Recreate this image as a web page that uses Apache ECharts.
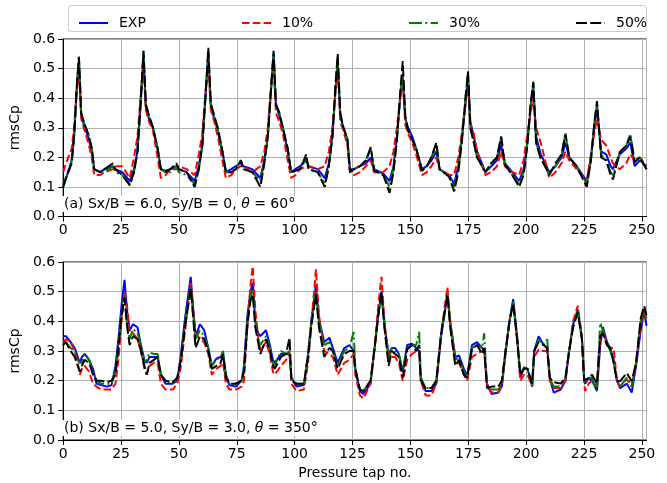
<!DOCTYPE html>
<html>
<head>
<meta charset="utf-8">
<script src="https://cdn.jsdelivr.net/npm/echarts@6/dist/echarts.min.js"></script>
<style>
  html, body { margin: 0; padding: 0; background: #fff; }
  #main { width: 667px; height: 483px; }
</style>
</head>
<body>
<div id="main"></div>
<script>
// panel (a): Sx/B = 6.0, Sy/B = 0, theta = 60
const tapsA = [
  0, 1.7, 3.7, 4.8, 5.8, 6.8, 7.8, 9.3, 10.8, 12.4, 13.4, 15.9, 17.9, 21.5, 22.5, 25.5, 28.8,
  30.6, 32.1, 33.6, 34.7, 35.7, 37.1, 38.8, 40.8, 42.2, 44.2, 46.3, 48.9, 49.9, 53.3, 56.8,
  58.6, 60.1, 61.6, 62.7, 63.8, 65.3, 66.8, 68.8, 70.3, 72.6, 74.6, 76.8, 77.8, 81.7, 85.2,
  86.9, 88.4, 89.8, 90.9, 91.9, 93.4, 94.9, 97, 98.5, 100.4, 102.4, 105, 106, 110, 113,
  114.8, 116.3, 117.6, 118.6, 119.7, 121.1, 122.8, 123.9, 125.7, 128.2, 130.8, 132.9, 134.3, 138.3, 141,
  142.7, 144.2, 145.6, 146.7, 147.8, 149, 150.8, 152.5, 155, 157.1, 159.1, 161.2, 162.6, 166.7, 168.9,
  170.7, 172.2, 173.8, 174.9, 175.9, 177.1, 178.8, 182.4, 184.9, 187.4, 189.2, 190.8, 194, 197,
  198.9, 200.4, 201.9, 203.1, 204.3, 206.3, 208.2, 210, 212.7, 215.3, 217, 218.6, 221.8, 226.2,
  228, 229.4, 230.6, 232.4, 234.6, 236.5, 237.5, 240.4, 243.3, 245, 246.9, 249.1, 252
];
const expA = [
  0.11, 0.14, 0.19, 0.28, 0.42, 0.53, 0.34, 0.30, 0.27, 0.22, 0.16, 0.15, 0.16, 0.17, 0.16, 0.15, 0.12,
  0.16, 0.22, 0.40, 0.55, 0.37, 0.33, 0.30, 0.23, 0.16, 0.155, 0.16, 0.17, 0.16, 0.15, 0.12,
  0.17, 0.24, 0.42, 0.55, 0.37, 0.33, 0.29, 0.22, 0.15, 0.16, 0.17, 0.18, 0.17, 0.16, 0.13,
  0.19, 0.27, 0.43, 0.55, 0.38, 0.34, 0.30, 0.22, 0.15, 0.16, 0.17, 0.19, 0.17, 0.16, 0.13,
  0.18, 0.27, 0.42, 0.52, 0.34, 0.30, 0.26, 0.16, 0.16, 0.17, 0.18, 0.20, 0.16, 0.145, 0.12,
  0.17, 0.27, 0.40, 0.47, 0.33, 0.30, 0.27, 0.23, 0.16, 0.17, 0.19, 0.22, 0.16, 0.14, 0.11,
  0.17, 0.26, 0.38, 0.47, 0.32, 0.28, 0.22, 0.15, 0.17, 0.19, 0.24, 0.18, 0.15, 0.12,
  0.16, 0.24, 0.36, 0.44, 0.27, 0.21, 0.18, 0.15, 0.17, 0.20, 0.25, 0.20, 0.17, 0.12,
  0.20, 0.30, 0.37, 0.22, 0.21, 0.17, 0.16, 0.21, 0.23, 0.25, 0.17, 0.19, 0.17
];
const p10A = [
  0.15, 0.19, 0.23, 0.31, 0.42, 0.50, 0.33, 0.29, 0.25, 0.20, 0.14, 0.14, 0.15, 0.16, 0.17, 0.17, 0.13,
  0.20, 0.27, 0.42, 0.52, 0.36, 0.32, 0.29, 0.20, 0.13, 0.14, 0.16, 0.16, 0.17, 0.16, 0.14,
  0.21, 0.28, 0.43, 0.52, 0.36, 0.32, 0.27, 0.19, 0.13, 0.14, 0.16, 0.17, 0.17, 0.15, 0.17,
  0.22, 0.30, 0.44, 0.50, 0.35, 0.32, 0.28, 0.19, 0.13, 0.14, 0.16, 0.17, 0.17, 0.16, 0.17,
  0.22, 0.30, 0.42, 0.50, 0.32, 0.29, 0.24, 0.15, 0.14, 0.15, 0.17, 0.19, 0.15, 0.15, 0.17,
  0.22, 0.30, 0.40, 0.46, 0.31, 0.28, 0.25, 0.21, 0.14, 0.15, 0.17, 0.20, 0.16, 0.14, 0.14,
  0.20, 0.28, 0.38, 0.45, 0.31, 0.29, 0.22, 0.14, 0.15, 0.17, 0.22, 0.17, 0.15, 0.14,
  0.19, 0.27, 0.35, 0.40, 0.30, 0.25, 0.19, 0.13, 0.15, 0.18, 0.22, 0.19, 0.16, 0.12,
  0.21, 0.28, 0.33, 0.26, 0.24, 0.20, 0.18, 0.16, 0.18, 0.21, 0.19, 0.20, 0.17
];
const p30A = [
  0.10, 0.14, 0.19, 0.28, 0.43, 0.54, 0.35, 0.31, 0.28, 0.23, 0.16, 0.15, 0.15, 0.17, 0.15, 0.14, 0.11,
  0.15, 0.22, 0.40, 0.56, 0.38, 0.34, 0.30, 0.23, 0.16, 0.15, 0.15, 0.17, 0.15, 0.14, 0.11,
  0.16, 0.24, 0.42, 0.56, 0.38, 0.34, 0.29, 0.22, 0.15, 0.15, 0.16, 0.19, 0.16, 0.15, 0.12,
  0.18, 0.27, 0.43, 0.55, 0.38, 0.35, 0.30, 0.23, 0.15, 0.155, 0.16, 0.20, 0.16, 0.15, 0.11,
  0.17, 0.27, 0.43, 0.53, 0.34, 0.30, 0.26, 0.15, 0.16, 0.17, 0.19, 0.23, 0.16, 0.14, 0.10,
  0.16, 0.27, 0.41, 0.48, 0.33, 0.29, 0.26, 0.23, 0.155, 0.17, 0.20, 0.245, 0.16, 0.135, 0.10,
  0.16, 0.26, 0.40, 0.49, 0.30, 0.26, 0.20, 0.15, 0.18, 0.20, 0.27, 0.18, 0.14, 0.11,
  0.15, 0.24, 0.37, 0.45, 0.25, 0.20, 0.17, 0.145, 0.17, 0.21, 0.28, 0.20, 0.17, 0.11,
  0.19, 0.31, 0.385, 0.21, 0.19, 0.15, 0.14, 0.21, 0.24, 0.28, 0.19, 0.20, 0.16
];
const p50A = [
  0.10, 0.14, 0.18, 0.28, 0.43, 0.54, 0.35, 0.31, 0.28, 0.23, 0.16, 0.15, 0.16, 0.18, 0.16, 0.14, 0.105,
  0.15, 0.22, 0.40, 0.56, 0.38, 0.34, 0.30, 0.23, 0.16, 0.15, 0.16, 0.18, 0.16, 0.15, 0.10,
  0.16, 0.24, 0.42, 0.57, 0.38, 0.34, 0.30, 0.22, 0.15, 0.15, 0.16, 0.19, 0.16, 0.15, 0.10,
  0.18, 0.27, 0.43, 0.56, 0.38, 0.35, 0.30, 0.23, 0.15, 0.155, 0.16, 0.21, 0.16, 0.15, 0.10,
  0.17, 0.27, 0.44, 0.55, 0.35, 0.30, 0.26, 0.15, 0.16, 0.17, 0.19, 0.235, 0.155, 0.14, 0.08,
  0.15, 0.26, 0.42, 0.525, 0.34, 0.29, 0.26, 0.23, 0.155, 0.17, 0.20, 0.25, 0.16, 0.135, 0.085,
  0.15, 0.25, 0.40, 0.49, 0.30, 0.26, 0.20, 0.15, 0.18, 0.20, 0.27, 0.175, 0.14, 0.10,
  0.14, 0.23, 0.38, 0.455, 0.25, 0.195, 0.17, 0.14, 0.18, 0.21, 0.28, 0.20, 0.17, 0.10,
  0.19, 0.31, 0.39, 0.20, 0.19, 0.14, 0.125, 0.217, 0.24, 0.27, 0.183, 0.20, 0.16
];

// panel (b): Sx/B = 5.0, Sy/B = 3.0, theta = 350
const tapsB = [
  0, 1.2, 3.2, 5, 6.3, 7.2, 8.1, 9.3, 11.2, 12.9, 14.4, 16.4, 18.9, 20.9, 22.6, 24, 25.3, 26.5,
  27.5, 28.7, 30.2, 32.1, 33.6, 35.1, 36.1, 37.3, 39.2, 40.8, 42.2, 44.2, 47.3, 49.3, 50.9, 52.8, 55.1,
  56.2, 57.2, 59.1, 60.9, 62.7, 64.2, 66.2, 68, 69.1, 70.3, 71.8, 74.6, 77.1, 78.1, 79.6, 80.9, 81.9,
  83, 84.2, 85.2, 87.6, 89.3, 90.6, 91.4, 94.1, 96.3, 97.8, 98.6, 100.8, 104, 105.8, 107.3, 109.2,
  110.5, 112.8, 115, 116.5, 118.6, 121.4, 123.7, 125.5, 126.2, 128.2, 129.7, 132.8, 134.7, 136.1, 137.5,
  138.9, 140.6, 142, 143.4, 145, 146.7, 148.6, 150.7, 152.5, 153.8, 154.5, 156.6, 159.1, 161.2, 163.3, 166,
  167.2, 169.4, 171, 173.1, 174.5, 176.6, 178.8, 181, 181.9, 183.1, 185.1, 188, 189.5, 191.1, 192.8, 194.4,
  196.1, 197.5, 199.1, 200.6, 202.6, 203.5, 205.4, 207.6, 209.1, 210.2, 211.9, 214.9, 217, 218.4, 220.3, 222.3,
  224.1, 225.1, 225.5, 227, 228.5, 230.6, 232, 233.2, 234.9, 236.3, 237.8, 239.2, 240.6, 243.5, 245.6, 247.5, 249.5, 251, 252
];
const expB = [
  0.35, 0.35, 0.33, 0.31, 0.28, 0.26, 0.28, 0.29, 0.27, 0.24, 0.19, 0.185, 0.18, 0.185, 0.25, 0.35, 0.46, 0.54,
  0.44, 0.37, 0.39, 0.38, 0.32, 0.27, 0.26, 0.28, 0.28, 0.28, 0.22, 0.19, 0.19, 0.20, 0.29, 0.42, 0.55,
  0.44, 0.35, 0.39, 0.37, 0.31, 0.25, 0.275, 0.28, 0.285, 0.22, 0.185, 0.18, 0.20, 0.25, 0.42, 0.50, 0.53,
  0.40, 0.36, 0.35, 0.37, 0.32, 0.27, 0.26, 0.29, 0.29, 0.29, 0.21, 0.18, 0.185, 0.29, 0.41, 0.52,
  0.41, 0.33, 0.345, 0.31, 0.26, 0.31, 0.32, 0.30, 0.24, 0.165, 0.155, 0.19, 0.32, 0.42, 0.50,
  0.38, 0.29, 0.31, 0.31, 0.29, 0.23, 0.32, 0.325, 0.31, 0.30, 0.21, 0.165, 0.165, 0.19, 0.35, 0.49,
  0.40, 0.28, 0.285, 0.24, 0.215, 0.32, 0.33, 0.31, 0.30, 0.19, 0.155, 0.16, 0.18, 0.29, 0.40, 0.475,
  0.35, 0.21, 0.245, 0.24, 0.18, 0.30, 0.35, 0.32, 0.31, 0.21, 0.16, 0.17, 0.20, 0.29, 0.39, 0.44,
  0.345, 0.20, 0.19, 0.21, 0.20, 0.165, 0.32, 0.38, 0.33, 0.31, 0.27, 0.20, 0.175, 0.19, 0.16, 0.25, 0.37, 0.435, 0.385
];
const p10B = [
  0.33, 0.34, 0.33, 0.30, 0.26, 0.22, 0.24, 0.25, 0.23, 0.19, 0.18, 0.17, 0.17, 0.17, 0.19, 0.28, 0.41, 0.50,
  0.46, 0.36, 0.36, 0.34, 0.30, 0.24, 0.22, 0.25, 0.26, 0.26, 0.19, 0.17, 0.17, 0.19, 0.25, 0.38, 0.53,
  0.44, 0.36, 0.34, 0.33, 0.29, 0.22, 0.24, 0.25, 0.26, 0.19, 0.17, 0.17, 0.18, 0.20, 0.38, 0.52, 0.585,
  0.44, 0.35, 0.30, 0.33, 0.29, 0.23, 0.22, 0.25, 0.27, 0.29, 0.19, 0.165, 0.17, 0.26, 0.40, 0.575,
  0.42, 0.30, 0.29, 0.28, 0.22, 0.26, 0.27, 0.29, 0.22, 0.15, 0.14, 0.19, 0.33, 0.45, 0.55,
  0.39, 0.28, 0.28, 0.28, 0.26, 0.20, 0.27, 0.29, 0.30, 0.30, 0.20, 0.15, 0.15, 0.19, 0.36, 0.515,
  0.40, 0.27, 0.26, 0.22, 0.20, 0.28, 0.29, 0.30, 0.30, 0.18, 0.16, 0.16, 0.18, 0.30, 0.40, 0.465,
  0.34, 0.20, 0.22, 0.22, 0.18, 0.28, 0.305, 0.30, 0.30, 0.20, 0.175, 0.175, 0.20, 0.29, 0.40, 0.452,
  0.35, 0.19, 0.165, 0.19, 0.20, 0.18, 0.34, 0.37, 0.32, 0.31, 0.31, 0.20, 0.18, 0.205, 0.18, 0.26, 0.39, 0.43, 0.40
];
const p30B = [
  0.33, 0.33, 0.31, 0.30, 0.27, 0.26, 0.26, 0.29, 0.27, 0.23, 0.20, 0.19, 0.19, 0.19, 0.23, 0.33, 0.43, 0.49,
  0.40, 0.34, 0.375, 0.36, 0.32, 0.26, 0.27, 0.295, 0.29, 0.29, 0.22, 0.20, 0.19, 0.21, 0.28, 0.41, 0.52,
  0.42, 0.34, 0.37, 0.35, 0.31, 0.25, 0.27, 0.28, 0.30, 0.22, 0.19, 0.19, 0.20, 0.24, 0.40, 0.48, 0.51,
  0.40, 0.34, 0.32, 0.35, 0.31, 0.26, 0.25, 0.30, 0.29, 0.30, 0.21, 0.19, 0.19, 0.29, 0.40, 0.50,
  0.40, 0.32, 0.33, 0.30, 0.25, 0.30, 0.31, 0.365, 0.24, 0.17, 0.165, 0.20, 0.32, 0.42, 0.49,
  0.38, 0.27, 0.31, 0.30, 0.29, 0.23, 0.31, 0.32, 0.32, 0.365, 0.21, 0.175, 0.175, 0.20, 0.36, 0.49,
  0.39, 0.27, 0.28, 0.23, 0.21, 0.31, 0.32, 0.31, 0.36, 0.18, 0.17, 0.17, 0.19, 0.30, 0.40, 0.465,
  0.34, 0.22, 0.245, 0.24, 0.185, 0.30, 0.34, 0.32, 0.34, 0.21, 0.18, 0.18, 0.21, 0.29, 0.39, 0.435,
  0.34, 0.20, 0.19, 0.21, 0.21, 0.165, 0.395, 0.37, 0.33, 0.30, 0.27, 0.20, 0.18, 0.21, 0.18, 0.26, 0.40, 0.44, 0.41
];
const p50B = [
  0.32, 0.33, 0.30, 0.28, 0.25, 0.23, 0.25, 0.27, 0.26, 0.22, 0.20, 0.20, 0.195, 0.20, 0.22, 0.32, 0.42, 0.48,
  0.39, 0.32, 0.35, 0.34, 0.30, 0.25, 0.22, 0.26, 0.27, 0.28, 0.22, 0.20, 0.195, 0.21, 0.27, 0.39, 0.51,
  0.41, 0.31, 0.35, 0.34, 0.30, 0.24, 0.25, 0.26, 0.29, 0.21, 0.19, 0.19, 0.20, 0.23, 0.39, 0.47, 0.49,
  0.38, 0.33, 0.29, 0.34, 0.30, 0.25, 0.24, 0.28, 0.29, 0.345, 0.20, 0.19, 0.19, 0.28, 0.39, 0.49,
  0.38, 0.28, 0.31, 0.30, 0.24, 0.29, 0.30, 0.30, 0.24, 0.17, 0.165, 0.20, 0.32, 0.42, 0.50,
  0.37, 0.25, 0.30, 0.29, 0.28, 0.21, 0.305, 0.32, 0.30, 0.32, 0.20, 0.175, 0.175, 0.20, 0.36, 0.49,
  0.38, 0.25, 0.27, 0.22, 0.21, 0.305, 0.32, 0.29, 0.31, 0.175, 0.18, 0.18, 0.20, 0.30, 0.40, 0.46,
  0.34, 0.22, 0.24, 0.24, 0.19, 0.30, 0.33, 0.32, 0.31, 0.21, 0.195, 0.19, 0.21, 0.29, 0.38, 0.43,
  0.34, 0.20, 0.195, 0.21, 0.22, 0.19, 0.35, 0.36, 0.32, 0.31, 0.26, 0.20, 0.198, 0.226, 0.198, 0.26, 0.41, 0.452, 0.42
];

const seriesNames = ['EXP', '10%', '30%', '50%'];
const seriesColors = ['#0000ff', '#ff0000', '#008000', '#000000'];
const seriesDash = ['solid', [7.5, 3.3], [13, 3.3, 2, 3.3], [11, 3.3]];
const yTicks = [0, 0.1, 0.2, 0.3, 0.4, 0.5, 0.6];

const FONT = 'DejaVu Sans';

function pairs(xs, ys) {
    return xs.map((x, i) => [x, ys[i]]);
}

function makeSeries(k, panel, xs, ys) {
    return {
        name: seriesNames[k],
        type: 'line',
        xAxisIndex: panel,
        yAxisIndex: panel,
        data: pairs(xs, ys),
        symbol: 'none',
        silent: true,
        color: seriesColors[k],
        lineStyle: {color: seriesColors[k], width: 2, type: seriesDash[k]}
    };
}

function xAxisFor(panel) {
    const ax = {
        gridIndex: panel,
        type: 'value',
        min: 0,
        max: 252,
        interval: 25,
        axisLine: {show: true, lineStyle: {color: '#000', width: 1}},
        axisTick: {show: true, length: 5, lineStyle: {color: '#000'}},
        axisLabel: {color: '#000', fontSize: 14, fontFamily: FONT, margin: 7, showMaxLabel: false},
        splitLine: {show: true, lineStyle: {color: '#b0b0b0', width: 1}}
    };
    if (panel === 1) {
        ax.name = 'Pressure tap no.';
        ax.nameLocation = 'middle';
        ax.nameGap = 26;
        ax.nameTextStyle = {color: '#000', fontSize: 14, fontFamily: FONT};
    }
    return ax;
}

function yAxisFor(panel) {
    return {
        gridIndex: panel,
        type: 'value',
        min: yTicks[0],
        max: yTicks[yTicks.length - 1],
        interval: 0.1,
        name: 'rmsCp',
        nameLocation: 'middle',
        nameGap: 33,
        nameTextStyle: {color: '#000', fontSize: 14, fontFamily: FONT},
        axisLine: {show: true, lineStyle: {color: '#000', width: 1}},
        axisTick: {show: true, length: 5, lineStyle: {color: '#000'}},
        axisLabel: {color: '#000', fontSize: 14, fontFamily: FONT, margin: 8,
            formatter: v => v.toFixed(1)},
        splitLine: {show: true, lineStyle: {color: '#b0b0b0', width: 1}}
    };
}

const legendLeft = [73, 236, 403, 570];
const legends = seriesNames.map((n, k) => ({
    data: [n],
    left: legendLeft[k],
    top: 11,
    itemWidth: 29,
    itemHeight: 14,
    selectedMode: false,
    itemStyle: {opacity: 0},
    lineStyle: {width: 2},
    textStyle: {color: '#000', fontSize: 14, fontFamily: FONT, padding: [0, 0, 0, 6]}
}));

const labelStyle = {
    color: '#000', fontSize: 14, fontWeight: 'normal', fontFamily: FONT,
    rich: {i: {fontStyle: 'italic', fontSize: 14, fontFamily: FONT, color: '#000'}}
};

const option = {
    animation: false,
    backgroundColor: '#fff',
    title: [
        {text: '(a) Sx/B = 6.0, Sy/B = 0, {i|θ} = 60°', left: 62, top: 196,
            textStyle: labelStyle, backgroundColor: '#fff', padding: [1, 2]},
        {text: '(b) Sx/B = 5.0, Sy/B = 3.0, {i|θ} = 350°', left: 62, top: 420,
            textStyle: labelStyle, backgroundColor: '#fff', padding: [1, 2]}
    ],
    legend: legends,
    graphic: [{
        type: 'rect',
        shape: {x: 68.5, y: 5.5, width: 578, height: 26, r: 3},
        style: {fill: 'none', stroke: '#cccccc', lineWidth: 1},
        z: 100
    }],
    grid: [
        {left: 61.5, top: 39, width: 585, height: 177.5, show: true, borderColor: '#000', borderWidth: 1},
        {left: 61.5, top: 262, width: 585, height: 178, show: true, borderColor: '#000', borderWidth: 1}
    ],
    xAxis: [xAxisFor(0), xAxisFor(1)],
    yAxis: [yAxisFor(0), yAxisFor(1)],
    series: [
        makeSeries(0, 0, tapsA, expA),
        makeSeries(1, 0, tapsA, p10A),
        makeSeries(2, 0, tapsA, p30A),
        makeSeries(3, 0, tapsA, p50A),
        makeSeries(0, 1, tapsB, expB),
        makeSeries(1, 1, tapsB, p10B),
        makeSeries(2, 1, tapsB, p30B),
        makeSeries(3, 1, tapsB, p50B)
    ]
};

const myChart = echarts.init(document.getElementById('main'));
myChart.setOption(option);
</script>
</body>
</html>
